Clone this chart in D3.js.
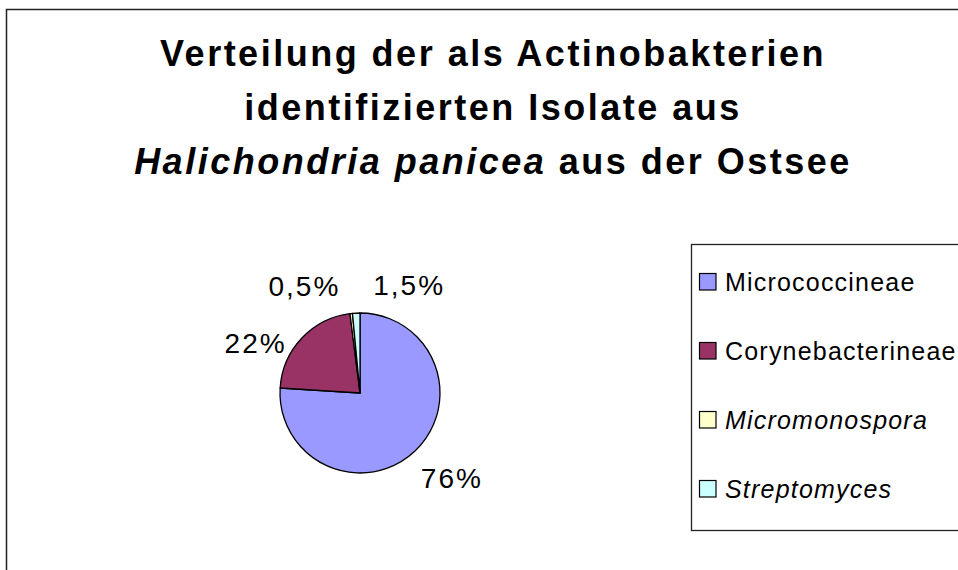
<!DOCTYPE html>
<html><head><meta charset="utf-8">
<script src="https://cdn.jsdelivr.net/npm/d3@7"></script>
<style>body{margin:0;background:#fff} svg{display:block}</style>
</head><body>
<svg id="c" width="958" height="570"></svg>
<script>
// ---- data ----
const categories = ["Micrococcineae", "Corynebacterineae", "Micromonospora", "Streptomyces"];
const values = [76, 22, 0.5, 1.5];
const valueLabels = ["76%", "22%", "0,5%", "1,5%"];
const italicCategory = [false, false, true, true];
const colors = ["#9999FF", "#993366", "#FFFFCC", "#CCFFFF"];
const titleLine1 = "Verteilung der als Actinobakterien";
const titleLine2 = "identifizierten Isolate aus";
const titleLine3Italic = "Halichondria panicea";
const titleLine3Rest = " aus der Ostsee";

// ---- layout ----
const W = 958, H = 570;
const font = "Arial, 'Liberation Sans', Helvetica, sans-serif";
const cx = 360, cy = 393, R = 80;
const labelR = 124;
const labelNudge = [[7, -5], [-14, 35], [-42, 16], [55, 16]];

const svg = d3.select("#c");
svg.append("rect").attr("width", W).attr("height", H).attr("fill", "#fff");

// outer chart frame
svg.append("rect").attr("x", 6.5).attr("y", 9.5).attr("width", 1000).attr("height", 700)
  .attr("fill", "none").attr("stroke", "#222").attr("stroke-width", 1.5);

// title
const title = svg.append("g").attr("font-family", font).attr("font-weight", "bold")
  .attr("font-size", 36).attr("letter-spacing", "2.5px").attr("text-anchor", "middle").attr("fill", "#000");
title.append("text").attr("x", 493).attr("y", 66).text(titleLine1);
title.append("text").attr("x", 493).attr("y", 120).text(titleLine2);
const t3 = title.append("text").attr("x", 493).attr("y", 174);
t3.append("tspan").attr("font-style", "italic").text(titleLine3Italic);
t3.append("tspan").text(titleLine3Rest);

// pie
const pie = d3.pie().sort(null).value(d => d).startAngle(0).endAngle(2 * Math.PI);
const arcs = pie(values);
const arc = d3.arc().innerRadius(0).outerRadius(R);
const labelArc = d3.arc().innerRadius(labelR).outerRadius(labelR);
const g = svg.append("g").attr("transform", `translate(${cx},${cy})`);
g.selectAll("path").data(arcs).join("path")
  .attr("d", arc).attr("fill", (d, i) => colors[i])
  .attr("stroke", "#000").attr("stroke-width", 1.3).attr("stroke-linejoin", "round");

g.selectAll("text.lbl").data(arcs).join("text").attr("class", "lbl")
  .attr("transform", (d, i) => {
    const c = labelArc.centroid(d);
    return `translate(${c[0] + labelNudge[i][0]},${c[1] + labelNudge[i][1]})`;
  })
  .attr("dy", "0.35em").attr("text-anchor", "middle")
  .attr("font-family", font).attr("font-size", 28).attr("letter-spacing", "2px")
  .attr("fill", "#000").text((d, i) => valueLabels[i]);

// legend
const lx = 691.5, ly = 244.5;
svg.append("rect").attr("x", lx).attr("y", ly).attr("width", 400).attr("height", 286)
  .attr("fill", "#fff").attr("stroke", "#222").attr("stroke-width", 1.3);
const rowY = d3.scalePoint().domain(categories).range([291, 498]);
const lg = svg.append("g").attr("font-family", font).attr("font-size", 25).attr("letter-spacing", "1.2px");
categories.forEach((c, i) => {
  const y = rowY(c);
  lg.append("rect").attr("x", 699.5).attr("y", y - 17.5).attr("width", 16.5).attr("height", 16.5)
    .attr("fill", colors[i]).attr("stroke", "#000").attr("stroke-width", 1.2);
  lg.append("text").attr("x", 725).attr("y", y).attr("fill", "#000")
    .attr("font-style", italicCategory[i] ? "italic" : "normal").text(c);
});
</script>
</body></html>
